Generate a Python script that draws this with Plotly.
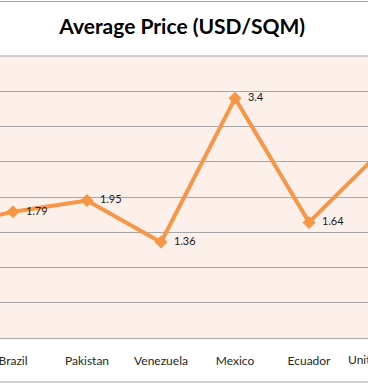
import plotly.graph_objects as go

# Data (categories and values; first & last are partly off-frame)
categories = ["Peru", "Brazil", "Pakistan", "Venezuela", "Mexico", "Ecuador", "United States"]
values = [1.55, 1.79, 1.95, 1.36, 3.4, 1.64, 2.68]
labels = ["", "1.79", "1.95", "1.36", "3.4", "1.64", ""]

W, H = 368, 383
M_T, M_B = 56, 45
x0, x1 = 0.824, 5.797  # visible window of the category axis

orange = "#F79646"
grid = "#A6A6A6"
bg = "#FDEFEA"
font = "Lato"

fig = go.Figure()
fig.add_trace(go.Scatter(
    x=list(range(len(categories))), y=values,
    mode="lines+markers+text",
    line=dict(color=orange, width=4),
    marker=dict(symbol="diamond", size=10, color=orange),
    text=["  " + t if t else "" for t in labels],
    textposition="middle right",
    textfont=dict(family=font, size=11, color="#1a1a1a"),
    cliponaxis=True,
    hoverinfo="skip",
))

plot_h = H - M_T - M_B

def py(px):
    # convert pixel row (from top) to paper y
    return (H - M_B - px) / plot_h

fig.update_layout(
    width=W, height=H,
    margin=dict(l=0, r=0, t=M_T, b=M_B, pad=0),
    paper_bgcolor="white",
    plot_bgcolor=bg,
    showlegend=False,
    title=dict(text="<b>Average Price (USD/SQM)</b>", x=0.495, xanchor="center",
               y=1 - 27 / H, yanchor="middle",
               font=dict(family=font, size=21, color="#000000")),
    xaxis=dict(
        range=[x0, x1], tickmode="array",
        tickvals=list(range(len(categories))), ticktext=categories,
        showgrid=False, zeroline=False, showline=True, linecolor=grid, linewidth=1,
        ticks="", tickfont=dict(family=font, size=12, color="#262626"),
        ticklabelstandoff=12, ticklabeloverflow="allow",
    ),
    yaxis=dict(
        range=[0, 4], dtick=0.5, showticklabels=False, showgrid=True,
        gridcolor=grid, gridwidth=1, zeroline=False, showline=False, ticks="",
    ),
    shapes=[
        dict(type="line", xref="paper", yref="paper", x0=0, x1=1, y0=py(1.5), y1=py(1.5),
             line=dict(color=grid, width=1)),
        dict(type="line", xref="paper", yref="paper", x0=0, x1=1, y0=py(382), y1=py(382),
             line=dict(color=grid, width=1)),
        dict(type="line", xref="paper", yref="paper", x0=0, x1=1, y0=1, y1=1,
             line=dict(color=grid, width=1)),
    ],
    annotations=[
        dict(text=categories[-1], xref="paper", yref="paper",
             x=(len(categories) - 1 - x0) / (x1 - x0), y=py(359),
             xanchor="center", yanchor="middle", showarrow=False,
             font=dict(family=font, size=12, color="#262626")),
    ],
)

fig.write_html("out.html", config={"displayModeBar": False, "staticPlot": True},
               post_script="document.body.style.margin='0px';")
